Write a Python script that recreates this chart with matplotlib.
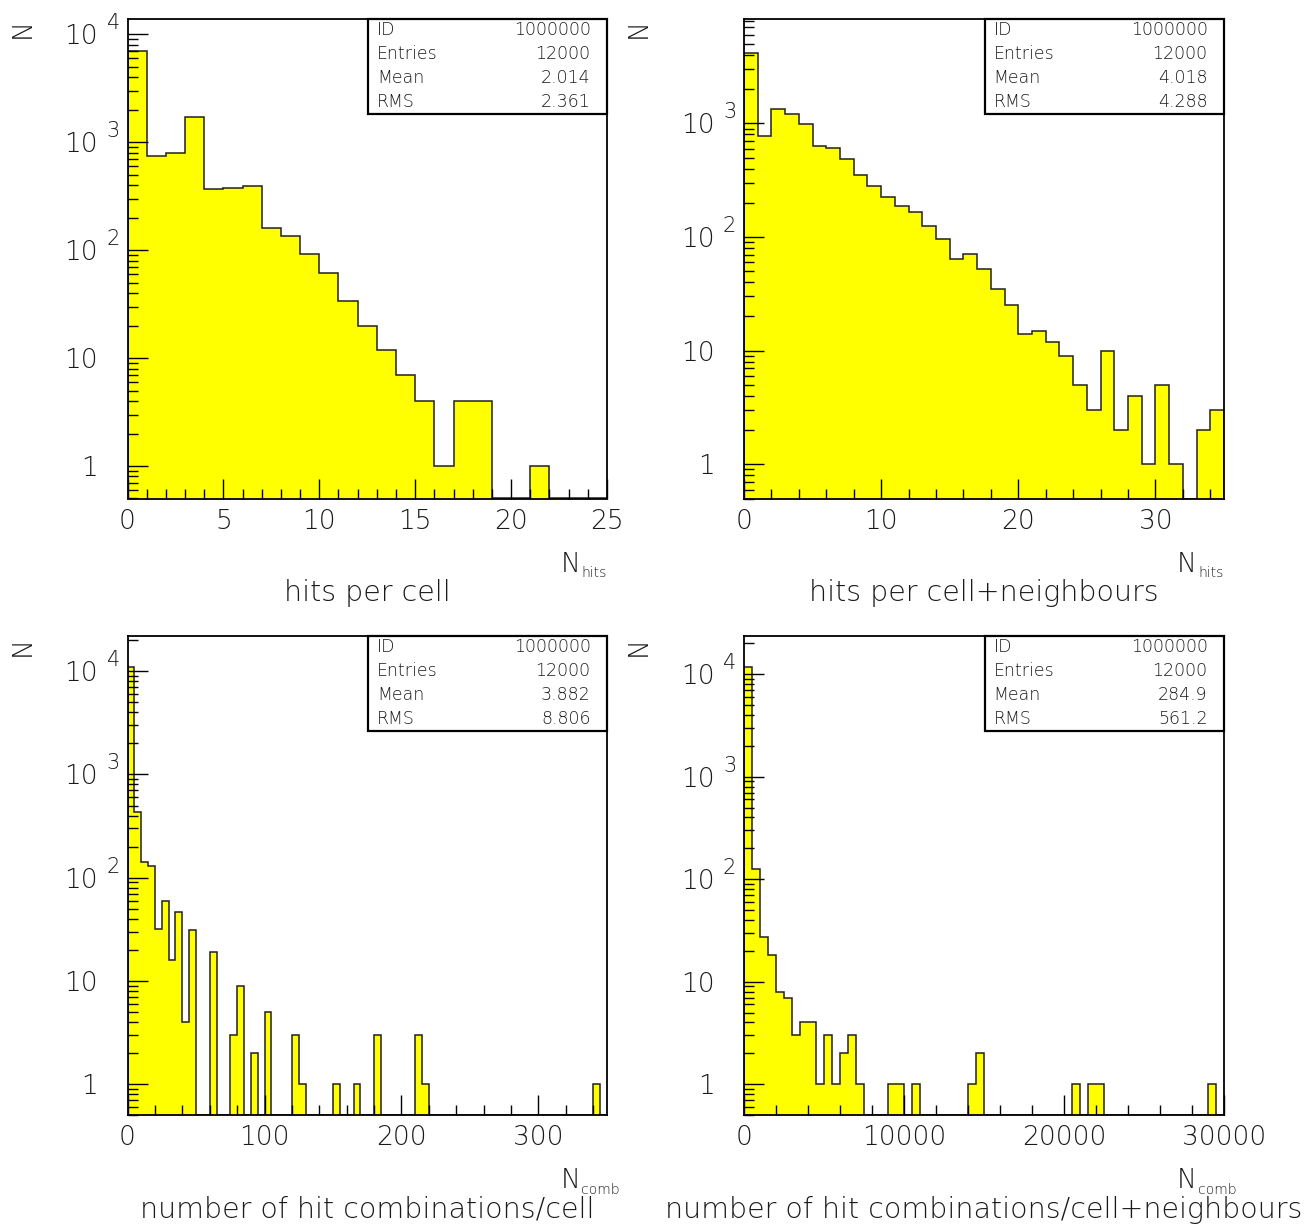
import numpy as np
import matplotlib
matplotlib.use("Agg")
import matplotlib.pyplot as plt
from matplotlib.transforms import offset_copy
from matplotlib.ticker import MultipleLocator, LogLocator, NullFormatter, FormatStrFormatter
from matplotlib.patches import Rectangle

# ---------------- data ----------------
# hits per cell : 25 bins of width 1 from 0 to 25
hits_cell_range = (0, 25)
hits_cell = [7000, 747, 802, 1718, 371, 377, 396, 162, 136, 92, 62, 34, 20,
             12, 7, 4, 1, 4, 4, 0, 0, 1, 0, 0, 0]

# hits per cell+neighbours : 35 bins of width 1 from 0 to 35
hits_nb_range = (0, 35)
hits_nb = [4190, 778, 1327, 1208, 993, 632, 611, 489, 349, 283, 227, 189, 167,
           125, 96, 64, 71, 52, 35, 25, 14, 15, 12, 9, 5, 3, 10, 2, 4, 1, 5,
           1, 0, 2, 3]

# hit combinations per cell : 70 bins of width 5 from 0 to 350
comb_cell_range = (0, 350)
comb_cell = [11000, 428, 141, 131, 32, 59, 16, 46, 4, 31,
             0, 0, 19, 0, 0, 3, 9, 0, 2, 0,
             5, 0, 0, 0, 3, 1, 0, 0, 0, 0,
             1, 0, 0, 1, 0, 0, 3, 0, 0, 0,
             0, 0, 3, 1, 0, 0, 0, 0, 0, 0,
             0, 0, 0, 0, 0, 0, 0, 0, 0, 0,
             0, 0, 0, 0, 0, 0, 0, 0, 1, 0]

# hit combinations per cell+neighbours : 60 bins of width 500 from 0 to 30000
comb_nb_range = (0, 30000)
comb_nb = [11780, 127, 27, 18, 8, 7, 3, 4, 4, 1,
           3, 1, 2, 3, 1, 0, 0, 0, 1, 1,
           0, 1, 0, 0, 0, 0, 0, 0, 1, 2,
           0, 0, 0, 0, 0, 0, 0, 0, 0, 0,
           0, 1, 0, 1, 1, 0, 0, 0, 0, 0,
           0, 0, 0, 0, 0, 0, 0, 0, 1, 0]

stat_names = ["ID", "Entries", "Mean", "RMS"]
stat_ids = ["1000000", "1000000", "1000000", "1000000"]
stat_entries = ["12000", "12000", "12000", "12000"]
stat_means = ["2.014", "4.018", "3.882", "284.9"]
stat_rms = ["2.361", "4.288", "8.806", "561.2"]

titles = ["hits per cell", "hits per cell+neighbours",
          "number of hit combinations/cell",
          "number of hit combinations/cell+neighbours"]
xlab_subs = ["hits", "hits", "comb", "comb"]
ylab = "N"
x_major = [5, 10, 100, 10000]
x_minor = [1, 2, 20, 2000]

# ---------------- layout ----------------
W, H, DPI = 1307, 1224, 100
plt.rcParams["font.family"] = ["DejaVu Sans"]
plt.rcParams["font.weight"] = 200

fig = plt.figure(figsize=(W / DPI, H / DPI), dpi=DPI)

rects = [(127.5, 18.5, 607, 498.5), (744, 18.5, 1224, 498.5),
         (127.5, 636, 607, 1115), (744, 636, 1224, 1115)]
datasets = [(hits_cell, hits_cell_range), (hits_nb, hits_nb_range),
            (comb_cell, comb_cell_range), (comb_nb, comb_nb_range)]

YELLOW = "#ffff00"
TICK_FS = 19
STAT_FS = 12.5
TEXT_COL = "#1a1a1a"


def fx(x):
    return x / W


def fy(y):
    return 1 - y / H


for i, (rect, (counts, rng)) in enumerate(zip(rects, datasets)):
    l, t, r, b = rect
    ax = fig.add_axes([fx(l), fy(b), (r - l) / W, (b - t) / H])
    counts = np.asarray(counts, dtype=float)
    edges = np.linspace(rng[0], rng[1], len(counts) + 1)
    ymin, ymax = 0.5, 2.0 * counts.max()
    ax.set_yscale("log")
    ax.set_xlim(*rng)
    ax.set_ylim(ymin, ymax)
    drawn = np.clip(counts, ymin, None)
    ax.stairs(drawn, edges, baseline=ymin, fill=True, facecolor=YELLOW,
              edgecolor="none", lw=0)
    ax.stairs(drawn, edges, baseline=ymin, color="#202020", lw=1.1)

    for s in ax.spines.values():
        s.set_linewidth(1.3)
        s.set_color("black")
        s.set_zorder(6)

    ax.xaxis.set_major_locator(MultipleLocator(x_major[i]))
    ax.xaxis.set_minor_locator(MultipleLocator(x_minor[i]))
    ax.xaxis.set_major_formatter(FormatStrFormatter("%d"))
    ax.yaxis.set_major_locator(LogLocator(10, numticks=20))
    ax.yaxis.set_minor_locator(LogLocator(10, subs=np.arange(2, 10), numticks=20))
    ax.yaxis.set_minor_formatter(NullFormatter())
    ax.tick_params(which="both", direction="in", top=False, right=False,
                   width=1.0, color="black")
    ax.tick_params(which="major", length=14.4)
    ax.tick_params(which="minor", length=7.2)
    ax.tick_params(axis="y", labelleft=False)
    ax.tick_params(axis="x", labelsize=TICK_FS, pad=7.5, labelcolor=TEXT_COL)

    # y tick labels in PAW style (10 with a raised exponent)
    ytr = ax.get_yaxis_transform()
    lo_dec = int(np.ceil(np.log10(ymin)))
    hi_dec = int(np.floor(np.log10(ymax)))
    for k in range(lo_dec, hi_dec + 1):
        v = 10.0 ** k
        main = "1" if k == 0 else "10"
        ax.text(0, v, main, transform=offset_copy(ytr, fig=fig, x=-29.5, y=-10, units="dots"),
                ha="right", va="baseline", fontsize=TICK_FS, clip_on=False, color=TEXT_COL)
        if k >= 2:
            ax.text(0, v, str(k), transform=offset_copy(ytr, fig=fig, x=-21, y=5, units="dots"),
                    ha="left", va="baseline", fontsize=15, clip_on=False, color=TEXT_COL)

    # statistics box
    ax.add_patch(Rectangle((0.5016, 0.801), 0.4984, 0.199, transform=ax.transAxes,
                           facecolor="white", edgecolor="black", lw=1.6, zorder=7,
                           clip_on=False))
    vals = [stat_ids[i], stat_entries[i], stat_means[i], stat_rms[i]]
    for j, (name, val) in enumerate(zip(stat_names, vals)):
        yy = 0.9656 - 0.05 * j
        ax.text(0.520, yy, name, transform=ax.transAxes, ha="left", va="baseline",
                fontsize=STAT_FS, zorder=8, color=TEXT_COL)
        ax.text(0.966, yy, val, transform=ax.transAxes, ha="right", va="baseline",
                fontsize=STAT_FS, zorder=8, color=TEXT_COL)

    # axis labels and title
    fig.text(fx(l - 105.5), fy(t + 10), ylab, rotation=90, ha="center", va="center",
             fontsize=19, color=TEXT_COL)
    fig.text(fx(r - 26), fy(b + 78.5), xlab_subs[i], ha="left", va="baseline",
             fontsize=10, color=TEXT_COL)
    fig.text(fx(r - 27), fy(b + 73.5), "N", ha="right", va="baseline", fontsize=19,
             color=TEXT_COL)
    fig.text(fx((l + r) / 2), fy(b + 102.5), titles[i], ha="center", va="baseline",
             fontsize=20.5, color=TEXT_COL)

fig.savefig("out.png", dpi=DPI)
